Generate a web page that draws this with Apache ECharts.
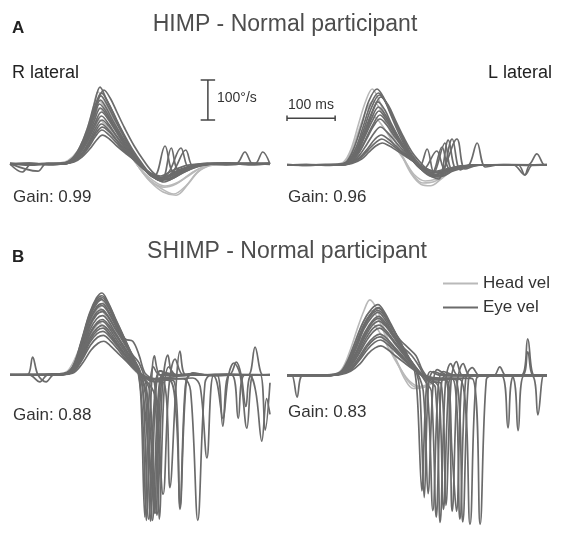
<!DOCTYPE html>
<html>
<head>
<meta charset="utf-8">
<script src="https://cdn.jsdelivr.net/npm/echarts@6/dist/echarts.min.js"></script>
<style>
html,body{margin:0;padding:0;background:#fff;}
#chart{width:565px;height:533px;}
</style>
</head>
<body>
<div id="chart"></div>
<script>
// ---- Data (time in ms, velocity in deg/s) ----
const timeRange = [0, 540];
const himpRange = [-100, 250];
const shimpRange = [-400, 250];

// HIMP - R lateral
const himpRHead = [
  [[0,0],[60,1],[100,1],[120,6],[140,30],[155,70],[170,125],[183,180],[196,158],[212,118],[228,78],[248,32],[268,-8],[290,-40],[315,-62],[340,-75],[365,-55],[390,-20],[420,-3],[470,0],[540,0]],
  [[0,0],[60,0],[100,2],[120,8],[140,32],[155,68],[170,115],[184,160],[198,138],[214,100],[230,65],[250,25],[270,-12],[292,-45],[318,-70],[345,-78],[370,-50],[395,-15],[430,0],[480,0],[540,0]],
  [[0,0],[60,1],[100,1],[120,5],[140,25],[156,58],[171,100],[185,140],[199,122],[215,90],[232,58],[252,20],[272,-15],[295,-45],[320,-58],[345,-50],[370,-30],[400,-8],[440,0],[540,0]],
  [[0,0],[60,0],[100,1],[120,5],[142,22],[158,50],[173,82],[186,110],[200,96],[216,72],[234,44],[254,14],[275,-18],[298,-42],[322,-55],[350,-45],[380,-20],[410,-3],[450,0],[540,0]]
];
const himpREye = [
  [[0,2],[40,-3],[80,1],[110,2],[130,15],[145,42],[160,86],[175,150],[187,192],[200,163],[215,127],[230,88],[250,40],[270,4],[290,-28],[310,-36],[340,-22],[370,-8],[400,0],[450,3],[500,-2],[540,1]],
  [[0,-1],[40,1],[80,-2],[110,1],[130,12],[145,38],[160,80],[175,138],[190,178],[205,150],[220,112],[235,78],[255,35],[275,0],[295,-30],[315,-40],[345,-18],[375,-5],[410,2],[460,-1],[500,2],[540,0]],
  [[0,1],[40,0],[80,1],[110,0],[130,10],[145,35],[160,72],[175,125],[188,160],[200,140],[215,105],[232,70],[250,35],[270,2],[290,-25],[310,-35],[330,-20],[355,40],[372,-10],[400,-2],[450,1],[500,0],[540,2]],
  [[0,0],[25,-20],[45,0],[80,0],[110,2],[130,9],[145,30],[160,62],[175,108],[188,140],[202,120],[218,88],[235,55],[255,22],[275,-5],[295,-30],[315,-42],[335,40],[350,-15],[380,-5],[420,0],[470,1],[488,30],[505,0],[540,2]],
  [[0,1],[58,-18],[75,1],[110,1],[130,8],[145,26],[160,54],[175,92],[190,120],[205,100],[220,72],[238,42],[258,14],[278,-10],[298,-32],[320,-45],[345,-30],[375,-10],[410,0],[460,2],[508,0],[525,30],[540,0]],
  [[0,0],[40,2],[80,-1],[110,1],[130,8],[148,25],[162,48],[177,80],[190,100],[205,85],[220,62],[238,36],[258,10],[280,-15],[300,-30],[322,45],[340,-20],[370,-8],[400,0],[450,-2],[500,1],[540,0]],
  [[0,-1],[40,0],[80,1],[110,0],[132,6],[150,22],[165,45],[178,70],[191,85],[206,72],[222,52],[240,30],[260,8],[282,-18],[305,-35],[330,-30],[360,-15],[390,-3],[430,0],[480,2],[540,-1]],
  [[0,0],[40,-2],[80,0],[110,1],[133,5],[150,18],[166,38],[180,60],[192,72],[207,62],[222,45],[242,25],[262,6],[285,-20],[310,-40],[335,-35],[365,-18],[395,-5],[430,1],[480,0],[540,1]],
  [[0,1],[40,1],[80,0],[110,0],[132,10],[150,40],[165,90],[180,150],[195,185],[208,165],[222,130],[238,90],[258,45],[278,8],[298,-22],[318,-35],[345,-25],[370,-10],[400,0],[450,1],[500,0],[540,0]],
  [[0,0],[40,0],[80,1],[110,1],[130,11],[146,35],[160,70],[175,118],[186,150],[199,132],[214,100],[230,68],[250,30],[270,0],[290,-22],[312,-30],[340,-15],[370,-3],[400,0],[450,0],[500,1],[540,0]],
  [[0,0],[40,1],[80,0],[110,1],[130,13],[146,40],[161,84],[176,140],[189,170],[202,148],[217,112],[233,76],[252,34],[272,0],[292,-26],[312,-34],[338,-20],[365,35],[380,-5],[410,0],[470,0],[540,0]],
  [[0,0],[40,0],[80,0],[110,1],[131,9],[147,30],[162,64],[177,104],[190,130],[204,112],[219,84],[236,52],[256,18],[276,-8],[296,-30],[318,-40],[344,-28],[372,-10],[405,0],[460,0],[540,0]],
  [[0,0],[40,0],[80,0],[110,1],[132,8],[149,26],[164,56],[178,90],[191,110],[205,95],[221,70],[239,42],[259,12],[280,-12],[302,-30],[327,-40],[355,-25],[385,-8],[420,0],[540,0]],
  [[0,0],[40,0],[80,0],[110,0],[132,7],[150,24],[165,50],[179,78],[192,92],[206,80],[222,58],[240,34],[260,10],[282,-14],[305,-32],[330,-38],[360,-20],[390,-5],[430,0],[540,0]]
];

// HIMP - L lateral
const himpLHead = [
  [[0,0],[60,0],[100,2],[118,8],[133,40],[148,100],[163,158],[177,190],[190,165],[205,118],[222,68],[240,20],[258,-22],[278,-48],[298,-52],[320,-35],[345,-12],[370,-2],[420,0],[540,0]],
  [[0,0],[60,1],[100,1],[120,8],[135,38],[150,90],[165,138],[179,160],[193,140],[208,100],[225,58],[243,15],[262,-25],[282,-45],[305,-42],[328,-25],[355,-8],[390,0],[540,0]],
  [[0,0],[60,0],[100,1],[122,6],[138,30],[153,70],[168,105],[181,120],[195,103],[211,74],[228,40],[246,8],[265,-25],[287,-40],[310,-35],[335,-18],[365,-5],[400,0],[540,0]]
];
const himpLEye = [
  [[0,1],[40,-1],[80,0],[110,2],[125,10],[140,45],[155,100],[170,160],[187,190],[200,170],[214,130],[230,85],[248,40],[265,8],[285,-15],[305,-25],[330,-12],[360,-3],[400,0],[450,1],[500,-1],[540,0]],
  [[0,0],[40,1],[80,-1],[110,1],[128,8],[145,40],[160,90],[176,145],[192,175],[206,155],[220,118],[238,75],[256,32],[275,2],[295,-25],[315,-35],[335,62],[352,-10],[375,-2],[410,0],[460,1],[540,0]],
  [[0,0],[40,0],[80,1],[110,1],[128,8],[145,36],[160,80],[175,128],[189,158],[203,138],[218,100],[235,62],[255,22],[275,-5],[291,40],[305,-20],[328,55],[342,-8],[365,-3],[400,0],[450,0],[540,1]],
  [[0,1],[40,0],[80,0],[110,1],[130,8],[146,32],[162,72],[178,112],[191,135],[205,118],[220,88],[238,52],[258,18],[278,-10],[298,-28],[318,-30],[343,65],[360,-12],[380,-3],[420,0],[480,0],[494,-25],[505,0],[540,0]],
  [[0,0],[40,1],[80,0],[110,0],[130,6],[148,28],[164,62],[180,98],[193,115],[207,100],[222,74],[240,44],[260,14],[280,-12],[300,-25],[320,-20],[353,65],[370,-10],[400,0],[450,0],[540,0]],
  [[0,0],[40,0],[80,1],[110,1],[132,6],[150,24],[166,52],[181,80],[194,95],[208,82],[224,60],[242,35],[262,10],[282,-12],[311,35],[330,-15],[360,-5],[400,0],[470,0],[494,-25],[510,0],[540,1]],
  [[0,0],[40,-1],[80,0],[110,0],[133,5],[152,20],[168,42],[183,65],[196,75],[210,65],[226,48],[244,28],[264,8],[285,-10],[305,-20],[328,-15],[360,-5],[378,0],[395,55],[412,-5],[440,0],[540,0]],
  [[0,0],[40,0],[80,0],[110,0],[135,4],[155,15],[170,32],[185,48],[198,55],[212,48],[228,36],[246,22],[266,6],[288,-8],[310,-18],[335,-12],[365,-4],[400,0],[500,0],[519,28],[535,0],[540,0]],
  [[0,0],[40,0],[80,0],[110,0],[130,6],[148,35],[164,85],[180,140],[195,170],[210,150],[225,112],[242,70],[262,28],[282,0],[300,-20],[320,-28],[345,-15],[375,-4],[410,0],[460,0],[540,0]],
  [[0,0],[40,0],[80,0],[110,1],[127,9],[143,42],[158,95],[174,152],[190,180],[204,160],[218,124],[235,80],[252,36],[270,4],[290,-18],[310,-28],[335,-14],[365,-3],[400,0],[540,0]],
  [[0,0],[40,0],[80,0],[110,1],[129,8],[146,34],[162,76],[177,120],[190,145],[204,126],[219,94],[236,58],[256,20],[276,-6],[296,-22],[316,-26],[345,-12],[380,-2],[420,0],[540,0]],
  [[0,0],[40,0],[80,0],[110,0],[131,7],[148,30],[164,66],[180,104],[193,125],[207,108],[222,80],[240,48],[260,16],[280,-10],[300,-22],[322,45],[338,-10],[365,-3],[400,0],[540,0]],
  [[0,0],[40,0],[80,0],[110,0],[134,5],[153,18],[169,38],[184,56],[197,65],[211,56],[227,42],[245,25],[265,7],[286,-8],[306,-16],[330,-10],[360,-3],[400,0],[540,0]]
];

// SHIMP - R lateral
const shimpRHead = [
  [[0,0],[60,1],[100,2],[120,10],[140,55],[155,110],[170,165],[184,200],[198,175],[214,128],[230,80],[248,35],[265,5],[285,-10],[310,-8],[340,-3],[380,0],[540,0]],
  [[0,0],[60,0],[100,2],[120,9],[140,48],[156,98],[171,145],[185,170],[199,148],[215,108],[232,66],[250,28],[268,2],[290,-12],[315,-10],[345,-4],[390,0],[540,0]],
  [[0,0],[60,0],[100,1],[122,8],[142,38],[158,76],[173,112],[186,130],[200,113],[216,82],[234,50],[252,20],[270,0],[292,-10],[320,-8],[360,-2],[400,0],[540,0]]
];
const shimpREye = [
  [[0,1],[40,0],[80,2],[110,3],[130,20],[148,85],[165,155],[180,195],[191,207],[203,185],[218,145],[235,100],[252,55],[266,15],[276,-40],[288,-365],[300,-60],[312,10],[340,0],[380,3],[420,-2],[470,0],[495,0],[509,70],[525,0],[540,1]],
  [[0,0],[40,1],[80,0],[110,2],[130,18],[148,78],[165,148],[180,185],[192,195],[205,172],[220,132],[238,88],[255,45],[270,8],[285,-60],[296,-368],[308,-50],[320,5],[350,0],[400,0],[450,2],[500,-1],[540,0]],
  [[0,0],[36,0],[47,45],[58,0],[75,-18],[90,0],[110,2],[130,15],[148,72],[165,138],[180,172],[192,180],[205,160],[220,125],[238,85],[255,50],[268,30],[282,-20],[295,-200],[305,-355],[316,-40],[328,50],[340,0],[380,0],[430,-2],[480,0],[540,0]],
  [[0,0],[40,0],[80,1],[110,1],[130,14],[148,65],[165,125],[180,158],[191,165],[204,148],[220,115],[240,90],[255,85],[268,50],[280,5],[300,-20],[318,-302],[330,-30],[343,40],[360,0],[400,0],[450,1],[540,0]],
  [[0,1],[40,0],[80,0],[110,1],[130,12],[148,58],[165,112],[180,142],[192,150],[205,135],[220,104],[238,70],[255,36],[270,6],[290,-15],[320,-20],[332,-285],[345,-25],[353,60],[365,0],[400,0],[455,0],[470,32],[480,0],[490,-80],[502,0],[540,0]],
  [[0,0],[40,0],[80,0],[110,1],[130,10],[148,52],[165,100],[180,128],[192,135],[205,120],[220,92],[238,60],[255,28],[272,2],[300,-12],[340,-15],[353,-340],[366,-20],[380,5],[410,0],[430,0],[442,-130],[455,0],[480,0],[540,0]],
  [[0,0],[40,0],[62,-18],[78,0],[110,1],[132,9],[150,46],[166,88],[181,112],[193,118],[206,104],[222,78],[240,48],[258,20],[275,0],[300,-10],[360,-10],[375,-40],[390,-368],[405,-20],[418,0],[460,0],[474,-110],[488,0],[540,0]],
  [[0,0],[40,0],[80,0],[110,1],[132,8],[150,38],[167,75],[182,95],[194,100],[207,88],[223,66],[240,40],[258,16],[276,-5],[300,-12],[380,-8],[395,-30],[409,-210],[423,0],[440,0],[495,0],[510,-40],[523,-168],[533,-60],[540,-100]],
  [[0,0],[40,0],[80,0],[110,1],[133,6],[152,32],[168,62],[183,80],[195,85],[208,74],[224,55],[242,34],[260,12],[278,-5],[300,-10],[340,-5],[380,0],[420,0],[430,-20],[442,-110],[454,0],[465,30],[478,0],[492,-135],[505,0],[520,0],[530,-140],[540,-20]],
  [[0,0],[40,1],[80,0],[110,2],[130,16],[148,70],[165,135],[180,168],[191,175],[204,158],[220,122],[236,85],[252,48],[266,15],[276,-120],[283,-368],[292,-80],[300,48],[312,0],[340,0],[400,0],[540,0]],
  [[0,0],[40,0],[80,0],[110,2],[130,18],[148,76],[165,145],[180,180],[191,190],[204,170],[219,133],[236,92],[252,50],[265,15],[275,-30],[292,-250],[302,-350],[312,-60],[322,0],[350,0],[400,0],[540,0]],
  [[0,0],[80,0],[110,1],[131,10],[149,48],[165,92],[181,118],[192,125],[205,112],[220,85],[237,55],[254,26],[270,4],[290,-10],[330,-12],[345,-100],[353,-335],[364,-30],[375,0],[420,0],[540,0]],
  [[0,0],[40,0],[80,1],[110,2],[130,19],[148,82],[165,152],[180,190],[191,200],[204,180],[219,140],[236,96],[252,52],[265,12],[272,-60],[280,-360],[289,-50],[298,20],[310,0],[350,0],[400,0],[540,0]],
  [[0,0],[40,0],[80,0],[110,1],[130,14],[148,62],[165,120],[180,152],[192,160],[205,144],[221,112],[238,78],[255,44],[270,10],[282,-60],[292,-370],[302,-60],[312,10],[330,0],[400,0],[540,0]],
  [[0,0],[40,0],[80,0],[110,1],[131,11],[149,54],[165,104],[181,133],[192,140],[205,126],[221,98],[238,66],[255,32],[272,0],[290,-40],[300,-350],[310,-50],[320,0],[360,0],[400,0],[540,0]],
  [[0,0],[40,0],[80,0],[110,1],[132,9],[150,42],[166,82],[181,104],[193,110],[206,98],[222,74],[240,46],[258,18],[275,-4],[300,-50],[310,-365],[320,-40],[330,20],[345,0],[400,0],[540,0]]
];

// SHIMP - L lateral
const shimpLHead = [
  [[0,0],[60,0],[100,4],[115,18],[130,60],[145,115],[160,165],[172,192],[186,170],[200,125],[215,75],[230,30],[245,-10],[262,-33],[285,-30],[310,-15],[340,-3],[380,0],[540,0]],
  [[0,0],[60,1],[100,3],[116,16],[132,55],[147,105],[162,145],[175,165],[189,145],[203,105],[218,62],[234,22],[250,-12],[268,-30],[290,-25],[315,-10],[350,0],[540,0]],
  [[0,0],[60,0],[100,3],[118,14],[134,45],[150,85],[165,115],[178,130],[191,112],[206,80],[222,45],[238,12],[255,-15],[275,-28],[300,-20],[330,-6],[370,0],[540,0]]
];
const shimpLEye = [
  [[0,0],[40,0],[80,1],[110,8],[125,35],[140,80],[158,135],[175,168],[189,180],[202,162],[216,130],[232,92],[250,52],[264,18],[271,-60],[280,-293],[289,-40],[298,10],[320,0],[360,0],[420,0],[540,0]],
  [[0,0],[40,0],[80,0],[110,6],[126,30],[142,75],[160,130],[176,160],[190,172],[203,155],[218,122],[235,85],[252,48],[268,15],[283,-40],[293,-300],[303,-30],[312,15],[335,0],[400,0],[540,0]],
  [[0,0],[10,0],[21,-55],[33,0],[80,0],[110,5],[127,26],[143,68],[160,118],[176,148],[189,160],[202,145],[217,115],[234,80],[252,45],[270,12],[290,-20],[303,-343],[314,-30],[325,10],[350,0],[400,0],[540,0]],
  [[0,0],[40,0],[80,0],[110,5],[128,24],[145,64],[162,110],[177,138],[190,150],[204,135],[220,105],[238,75],[258,52],[272,28],[290,-10],[308,-30],[318,-373],[329,-20],[340,30],[355,0],[400,0],[430,0],[442,22],[455,0],[540,0]],
  [[0,0],[40,0],[80,0],[110,4],[128,22],[146,58],[163,100],[178,128],[191,138],[205,125],[221,98],[238,68],[256,38],[275,10],[300,-15],[320,-20],[330,-330],[341,-10],[352,35],[365,0],[400,0],[540,0]],
  [[0,0],[40,0],[80,0],[110,4],[130,20],[148,52],[165,88],[180,112],[192,120],[206,108],[222,84],[240,56],[258,30],[276,6],[300,-10],[330,-12],[343,-345],[354,-15],[366,30],[380,0],[445,0],[459,-133],[472,0],[540,0]],
  [[0,0],[40,0],[80,0],[110,3],[130,16],[148,44],[166,78],[181,98],[193,105],[207,94],[223,72],[241,48],[260,24],[278,4],[300,-8],[345,-10],[359,-365],[371,-10],[385,20],[400,0],[466,0],[480,-140],[493,0],[540,0]],
  [[0,0],[40,0],[80,0],[110,3],[132,14],[150,38],[167,66],[182,84],[194,90],[208,80],[224,62],[242,40],[262,18],[280,2],[310,-8],[360,-10],[380,-378],[393,-10],[410,0],[486,0],[500,93],[514,0],[540,0]],
  [[0,0],[40,0],[80,0],[110,2],[132,11],[152,30],[168,55],[183,70],[195,75],[209,66],[225,50],[244,32],[264,14],[282,0],[310,-6],[385,-8],[401,-378],[414,-10],[428,0],[508,0],[521,-100],[533,0],[540,0]],
  [[0,0],[40,0],[80,0],[110,6],[126,28],[143,72],[160,124],[176,155],[189,165],[203,150],[218,120],[235,90],[252,70],[268,50],[282,12],[300,-10],[330,-10],[343,-200],[352,-345],[362,-30],[372,0],[420,0],[488,0],[500,60],[512,0],[540,0]],
  [[0,0],[40,0],[80,0],[110,7],[126,31],[142,76],[160,128],[176,160],[190,170],[203,153],[218,122],[235,84],[252,46],[268,12],[276,-40],[285,-310],[294,-20],[305,10],[330,0],[400,0],[540,0]],
  [[0,0],[40,0],[80,0],[110,5],[128,23],[145,60],[162,104],[177,134],[190,145],[204,130],[220,102],[238,70],[256,40],[274,10],[290,-20],[300,-40],[310,-360],[320,-30],[330,0],[400,0],[540,0]],
  [[0,0],[40,0],[80,0],[110,4],[129,20],[147,54],[164,94],[179,120],[191,128],[205,115],[221,90],[239,62],[258,34],[276,6],[300,-10],[315,-30],[325,-340],[336,-20],[346,0],[400,0],[540,0]],
  [[0,0],[40,0],[80,0],[110,3],[131,14],[149,40],[166,72],[181,92],[193,98],[207,88],[223,68],[241,45],[260,22],[278,4],[310,-8],[350,-10],[365,-372],[377,-10],[390,0],[540,0]]
];

// Scale bars: 100 deg/s and 100 ms
const scaleVel = 100;
const scaleTime = 100;

// ---- Styles / layout ----
const HEAD_COLOR = '#b9b9b9';
const EYE_COLOR = '#6b6b6b';
const FONT = '"Liberation Sans", Arial, Helvetica, sans-serif';

const grids = [
  {left: 10, top: 64, width: 260, height: 140},
  {left: 287, top: 65, width: 260, height: 140},
  {left: 10, top: 276, width: 260, height: 260},
  {left: 287, top: 277, width: 260, height: 260}
];
const yRanges = [himpRange, himpRange, shimpRange, shimpRange];

const xAxes = grids.map((g, i) => ({
  type: 'value', gridIndex: i, min: timeRange[0], max: timeRange[1], show: false
}));
const yAxes = grids.map((g, i) => ({
  type: 'value', gridIndex: i, min: yRanges[i][0], max: yRanges[i][1], show: false
}));

const series = [];
function addTraces(traces, idx, name, color, width) {
  traces.forEach(tr => {
    series.push({
      type: 'line', name: name, xAxisIndex: idx, yAxisIndex: idx,
      data: tr, showSymbol: false, symbol: 'none', smooth: 0.35,
      lineStyle: {color: color, width: width}, itemStyle: {color: color},
      silent: true, animation: false
    });
  });
}
const panels = [
  [himpRHead, himpREye], [himpLHead, himpLEye],
  [shimpRHead, shimpREye], [shimpLHead, shimpLEye]
];
panels.forEach((p, i) => addTraces(p[0], i, 'Head vel', HEAD_COLOR, 1.6));
panels.forEach((p, i) => addTraces(p[1], i, 'Eye vel', EYE_COLOR, 1.7));

// vertical scale bar in first panel, horizontal one in second panel
const barT = 411, barV0 = 110;
const capHalf = 15;
const hbT0 = 0, hbV = 117, hbCap = 7;
const barStyle = {color: '#444', width: 1.5};
function barSeries(idx, data) {
  return {type: 'line', xAxisIndex: idx, yAxisIndex: idx, data: data, showSymbol: false, symbol: 'none',
    clip: false, lineStyle: barStyle, silent: true, animation: false, z: 5};
}
series.push(barSeries(0, [[barT, barV0], [barT, barV0 + scaleVel]]));
series.push(barSeries(0, [[barT - capHalf, barV0], [barT + capHalf, barV0]]));
series.push(barSeries(0, [[barT - capHalf, barV0 + scaleVel], [barT + capHalf, barV0 + scaleVel]]));
series.push(barSeries(1, [[hbT0, hbV], [hbT0 + scaleTime, hbV]]));
series.push(barSeries(1, [[hbT0, hbV - hbCap], [hbT0, hbV + hbCap]]));
series.push(barSeries(1, [[hbT0 + scaleTime, hbV - hbCap], [hbT0 + scaleTime, hbV + hbCap]]));

function txt(text, x, y, opts) {
  return {
    type: 'text', x: x, y: y, silent: true,
    style: Object.assign({text: text, font: '17px ' + FONT, fill: '#333', verticalAlign: 'middle', align: 'left'}, opts || {})
  };
}

const option = {
  backgroundColor: '#fff',
  animation: false,
  grid: grids,
  xAxis: xAxes,
  yAxis: yAxes,
  legend: {
    data: [{name: 'Head vel'}, {name: 'Eye vel'}],
    orient: 'vertical', left: 443, top: 275, padding: 0,
    icon: 'rect', itemWidth: 35, itemHeight: 2, itemGap: 7,
    selectedMode: false,
    textStyle: {fontSize: 17, color: '#333', fontFamily: FONT}
  },
  series: series,
  graphic: [
    txt('A', 12, 28, {font: 'bold 17px ' + FONT, fill: '#222'}),
    txt('HIMP - Normal participant', 285, 25, {font: '23px ' + FONT, fill: '#4d4d4d', align: 'center'}),
    txt('R lateral', 12, 73, {font: '18px ' + FONT, fill: '#222'}),
    txt('L lateral', 552, 73, {font: '18px ' + FONT, fill: '#222', align: 'right'}),
    txt('100°/s', 217, 98, {font: '14px ' + FONT, fill: '#333'}),
    txt('100 ms', 311, 105, {font: '14px ' + FONT, fill: '#333', align: 'center'}),
    txt('Gain: 0.99', 13, 197),
    txt('Gain: 0.96', 288, 197),
    txt('B', 12, 257, {font: 'bold 17px ' + FONT, fill: '#222'}),
    txt('SHIMP - Normal participant', 287, 252, {font: '23px ' + FONT, fill: '#4d4d4d', align: 'center'}),
    txt('Gain: 0.88', 13, 415),
    txt('Gain: 0.83', 288, 412)
  ]
};

const chart = echarts.init(document.getElementById('chart'), null, {renderer: 'canvas'});
chart.setOption(option);
</script>
</body>
</html>
